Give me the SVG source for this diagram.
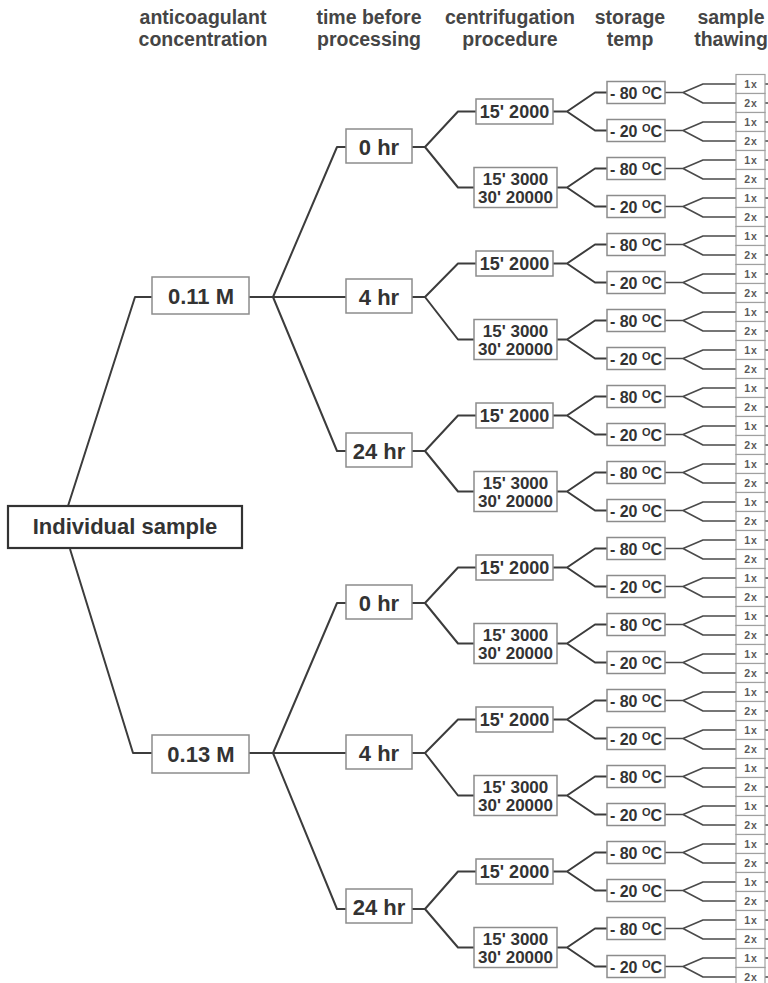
<svg xmlns="http://www.w3.org/2000/svg" width="768" height="983" viewBox="0 0 768 983">
<style>
.ln{fill:none;stroke:#3c3c3c;stroke-width:2;stroke-linejoin:round}
.lnl{fill:none;stroke:#4a4a4a;stroke-width:1.6;stroke-linejoin:round}
.bx{fill:#fff;stroke:#8c8c8c;stroke-width:1.5}
.root{fill:#fff;stroke:#333;stroke-width:2.2}
.lf{fill:#fff;stroke:#a0a0a0;stroke-width:1.2}
text{font-family:"Liberation Sans",Arial,sans-serif;font-weight:bold;fill:#333;text-anchor:middle}
.hd{font-size:19.5px;fill:#454545}
.big{font-size:22px}
.cf{font-size:18px}
.cf2{font-size:17px}
.st{font-size:16px}
.sup{font-size:11px}
.lt{font-size:10.5px;fill:#5a5a5a;letter-spacing:1px}
</style>
<rect width="768" height="983" fill="#fff"/>
<g id="headers">
<text class="hd" x="203" y="24">anticoagulant</text>
<text class="hd" x="203" y="46">concentration</text>
<text class="hd" x="369" y="24">time before</text>
<text class="hd" x="369" y="46">processing</text>
<text class="hd" x="510" y="24">centrifugation</text>
<text class="hd" x="510" y="46">procedure</text>
<text class="hd" x="630" y="24">storage</text>
<text class="hd" x="630" y="46">temp</text>
<text class="hd" x="731" y="24">sample</text>
<text class="hd" x="731" y="46">thawing</text>
</g>
<g id="connectors">
<path class="ln" d="M68 506L135 297H152"/>
<path class="ln" d="M70 549L133 753H152"/>
<path class="ln" d="M249 297H273L337 147H346"/>
<path class="ln" d="M273 297H346"/>
<path class="ln" d="M273 297L337 451H346"/>
<path class="ln" d="M249 753H273L337 603H346"/>
<path class="ln" d="M273 753H346"/>
<path class="ln" d="M273 753L337 909H346"/>
<path class="ln" d="M412 147H425L458 111.5H476M425 147L458 187.5H474"/>
<path class="ln" d="M412 297H425L458 263.5H476M425 297L458 339.5H474"/>
<path class="ln" d="M412 451H425L458 415.5H476M425 451L458 491.5H474"/>
<path class="ln" d="M412 603H425L458 567.5H476M425 603L458 643.5H474"/>
<path class="ln" d="M412 753H425L458 719.5H476M425 753L458 795.5H474"/>
<path class="ln" d="M412 909H425L458 871.5H476M425 909L458 947.5H474"/>
<path class="ln" d="M553 111.5H567L595 92.5H607M567 111.5L595 130.5H607"/>
<path class="ln" d="M557 187.5H567L595 168.5H607M567 187.5L595 206.5H607"/>
<path class="ln" d="M553 263.5H567L595 244.5H607M567 263.5L595 282.5H607"/>
<path class="ln" d="M557 339.5H567L595 320.5H607M567 339.5L595 358.5H607"/>
<path class="ln" d="M553 415.5H567L595 396.5H607M567 415.5L595 434.5H607"/>
<path class="ln" d="M557 491.5H567L595 472.5H607M567 491.5L595 510.5H607"/>
<path class="ln" d="M553 567.5H567L595 548.5H607M567 567.5L595 586.5H607"/>
<path class="ln" d="M557 643.5H567L595 624.5H607M567 643.5L595 662.5H607"/>
<path class="ln" d="M553 719.5H567L595 700.5H607M567 719.5L595 738.5H607"/>
<path class="ln" d="M557 795.5H567L595 776.5H607M567 795.5L595 814.5H607"/>
<path class="ln" d="M553 871.5H567L595 852.5H607M567 871.5L595 890.5H607"/>
<path class="ln" d="M557 947.5H567L595 928.5H607M567 947.5L595 966.5H607"/>
<path class="lnl" d="M665 92.5H683L703 84H736M683 92.5L703 103H736"/>
<path class="lnl" d="M665 130.5H683L703 122H736M683 130.5L703 141H736"/>
<path class="lnl" d="M665 168.5H683L703 160H736M683 168.5L703 179H736"/>
<path class="lnl" d="M665 206.5H683L703 198H736M683 206.5L703 217H736"/>
<path class="lnl" d="M665 244.5H683L703 236H736M683 244.5L703 255H736"/>
<path class="lnl" d="M665 282.5H683L703 274H736M683 282.5L703 293H736"/>
<path class="lnl" d="M665 320.5H683L703 312H736M683 320.5L703 331H736"/>
<path class="lnl" d="M665 358.5H683L703 350H736M683 358.5L703 369H736"/>
<path class="lnl" d="M665 396.5H683L703 388H736M683 396.5L703 407H736"/>
<path class="lnl" d="M665 434.5H683L703 426H736M683 434.5L703 445H736"/>
<path class="lnl" d="M665 472.5H683L703 464H736M683 472.5L703 483H736"/>
<path class="lnl" d="M665 510.5H683L703 502H736M683 510.5L703 521H736"/>
<path class="lnl" d="M665 548.5H683L703 540H736M683 548.5L703 559H736"/>
<path class="lnl" d="M665 586.5H683L703 578H736M683 586.5L703 597H736"/>
<path class="lnl" d="M665 624.5H683L703 616H736M683 624.5L703 635H736"/>
<path class="lnl" d="M665 662.5H683L703 654H736M683 662.5L703 673H736"/>
<path class="lnl" d="M665 700.5H683L703 692H736M683 700.5L703 711H736"/>
<path class="lnl" d="M665 738.5H683L703 730H736M683 738.5L703 749H736"/>
<path class="lnl" d="M665 776.5H683L703 768H736M683 776.5L703 787H736"/>
<path class="lnl" d="M665 814.5H683L703 806H736M683 814.5L703 825H736"/>
<path class="lnl" d="M665 852.5H683L703 844H736M683 852.5L703 863H736"/>
<path class="lnl" d="M665 890.5H683L703 882H736M683 890.5L703 901H736"/>
<path class="lnl" d="M665 928.5H683L703 920H736M683 928.5L703 939H736"/>
<path class="lnl" d="M665 966.5H683L703 958H736M683 966.5L703 977H736"/>
<path class="lnl" d="M765 84h3M765 103h3M765 122h3M765 141h3M765 160h3M765 179h3M765 198h3M765 217h3M765 236h3M765 255h3M765 274h3M765 293h3M765 312h3M765 331h3M765 350h3M765 369h3M765 388h3M765 407h3M765 426h3M765 445h3M765 464h3M765 483h3M765 502h3M765 521h3M765 540h3M765 559h3M765 578h3M765 597h3M765 616h3M765 635h3M765 654h3M765 673h3M765 692h3M765 711h3M765 730h3M765 749h3M765 768h3M765 787h3M765 806h3M765 825h3M765 844h3M765 863h3M765 882h3M765 901h3M765 920h3M765 939h3M765 958h3M765 977h3"/>
</g>
<g id="n-root"><rect class="root" x="8" y="506" width="234" height="42"/><text class="big" x="125" y="534">Individual sample</text></g>
<g id="n-c011"><rect class="bx" x="152" y="277" width="97" height="37"/><text class="big" x="201" y="303.5">0.11 M</text></g>
<g id="n-c013"><rect class="bx" x="152" y="735" width="97" height="38"/><text class="big" x="201" y="762">0.13 M</text></g>
<g id="n-t0"><rect class="bx" x="346" y="129" width="66" height="34"/><text class="big" x="379" y="154.5">0 hr</text></g>
<g id="n-t1"><rect class="bx" x="346" y="279" width="66" height="34"/><text class="big" x="379" y="304.5">4 hr</text></g>
<g id="n-t2"><rect class="bx" x="346" y="433" width="66" height="34"/><text class="big" x="379" y="458.5">24 hr</text></g>
<g id="n-t3"><rect class="bx" x="346" y="585" width="66" height="34"/><text class="big" x="379" y="610.5">0 hr</text></g>
<g id="n-t4"><rect class="bx" x="346" y="735" width="66" height="34"/><text class="big" x="379" y="760.5">4 hr</text></g>
<g id="n-t5"><rect class="bx" x="346" y="889" width="66" height="34"/><text class="big" x="379" y="914.5">24 hr</text></g>
<g id="n-f0"><rect class="bx" x="476" y="99" width="77" height="25"/><text class="cf" x="514.5" y="118">15' 2000</text></g>
<g id="n-f1"><rect class="bx" x="474" y="167.5" width="83" height="40"/><text class="cf2" x="515.5" y="184.5">15' 3000</text><text class="cf2" x="515.5" y="203">30' 20000</text></g>
<g id="n-f2"><rect class="bx" x="476" y="251" width="77" height="25"/><text class="cf" x="514.5" y="270">15' 2000</text></g>
<g id="n-f3"><rect class="bx" x="474" y="319.5" width="83" height="40"/><text class="cf2" x="515.5" y="336.5">15' 3000</text><text class="cf2" x="515.5" y="355">30' 20000</text></g>
<g id="n-f4"><rect class="bx" x="476" y="403" width="77" height="25"/><text class="cf" x="514.5" y="422">15' 2000</text></g>
<g id="n-f5"><rect class="bx" x="474" y="471.5" width="83" height="40"/><text class="cf2" x="515.5" y="488.5">15' 3000</text><text class="cf2" x="515.5" y="507">30' 20000</text></g>
<g id="n-f6"><rect class="bx" x="476" y="555" width="77" height="25"/><text class="cf" x="514.5" y="574">15' 2000</text></g>
<g id="n-f7"><rect class="bx" x="474" y="623.5" width="83" height="40"/><text class="cf2" x="515.5" y="640.5">15' 3000</text><text class="cf2" x="515.5" y="659">30' 20000</text></g>
<g id="n-f8"><rect class="bx" x="476" y="707" width="77" height="25"/><text class="cf" x="514.5" y="726">15' 2000</text></g>
<g id="n-f9"><rect class="bx" x="474" y="775.5" width="83" height="40"/><text class="cf2" x="515.5" y="792.5">15' 3000</text><text class="cf2" x="515.5" y="811">30' 20000</text></g>
<g id="n-f10"><rect class="bx" x="476" y="859" width="77" height="25"/><text class="cf" x="514.5" y="878">15' 2000</text></g>
<g id="n-f11"><rect class="bx" x="474" y="927.5" width="83" height="40"/><text class="cf2" x="515.5" y="944.5">15' 3000</text><text class="cf2" x="515.5" y="963">30' 20000</text></g>
<g id="n-s0"><rect class="bx" x="607" y="81.5" width="58" height="22"/><text class="st" x="636" y="98.5">- 80 <tspan class="sup" dy="-5">O</tspan><tspan dy="5">C</tspan></text></g>
<g id="n-s1"><rect class="bx" x="607" y="119.5" width="58" height="22"/><text class="st" x="636" y="136.5">- 20 <tspan class="sup" dy="-5">O</tspan><tspan dy="5">C</tspan></text></g>
<g id="n-s2"><rect class="bx" x="607" y="157.5" width="58" height="22"/><text class="st" x="636" y="174.5">- 80 <tspan class="sup" dy="-5">O</tspan><tspan dy="5">C</tspan></text></g>
<g id="n-s3"><rect class="bx" x="607" y="195.5" width="58" height="22"/><text class="st" x="636" y="212.5">- 20 <tspan class="sup" dy="-5">O</tspan><tspan dy="5">C</tspan></text></g>
<g id="n-s4"><rect class="bx" x="607" y="233.5" width="58" height="22"/><text class="st" x="636" y="250.5">- 80 <tspan class="sup" dy="-5">O</tspan><tspan dy="5">C</tspan></text></g>
<g id="n-s5"><rect class="bx" x="607" y="271.5" width="58" height="22"/><text class="st" x="636" y="288.5">- 20 <tspan class="sup" dy="-5">O</tspan><tspan dy="5">C</tspan></text></g>
<g id="n-s6"><rect class="bx" x="607" y="309.5" width="58" height="22"/><text class="st" x="636" y="326.5">- 80 <tspan class="sup" dy="-5">O</tspan><tspan dy="5">C</tspan></text></g>
<g id="n-s7"><rect class="bx" x="607" y="347.5" width="58" height="22"/><text class="st" x="636" y="364.5">- 20 <tspan class="sup" dy="-5">O</tspan><tspan dy="5">C</tspan></text></g>
<g id="n-s8"><rect class="bx" x="607" y="385.5" width="58" height="22"/><text class="st" x="636" y="402.5">- 80 <tspan class="sup" dy="-5">O</tspan><tspan dy="5">C</tspan></text></g>
<g id="n-s9"><rect class="bx" x="607" y="423.5" width="58" height="22"/><text class="st" x="636" y="440.5">- 20 <tspan class="sup" dy="-5">O</tspan><tspan dy="5">C</tspan></text></g>
<g id="n-s10"><rect class="bx" x="607" y="461.5" width="58" height="22"/><text class="st" x="636" y="478.5">- 80 <tspan class="sup" dy="-5">O</tspan><tspan dy="5">C</tspan></text></g>
<g id="n-s11"><rect class="bx" x="607" y="499.5" width="58" height="22"/><text class="st" x="636" y="516.5">- 20 <tspan class="sup" dy="-5">O</tspan><tspan dy="5">C</tspan></text></g>
<g id="n-s12"><rect class="bx" x="607" y="537.5" width="58" height="22"/><text class="st" x="636" y="554.5">- 80 <tspan class="sup" dy="-5">O</tspan><tspan dy="5">C</tspan></text></g>
<g id="n-s13"><rect class="bx" x="607" y="575.5" width="58" height="22"/><text class="st" x="636" y="592.5">- 20 <tspan class="sup" dy="-5">O</tspan><tspan dy="5">C</tspan></text></g>
<g id="n-s14"><rect class="bx" x="607" y="613.5" width="58" height="22"/><text class="st" x="636" y="630.5">- 80 <tspan class="sup" dy="-5">O</tspan><tspan dy="5">C</tspan></text></g>
<g id="n-s15"><rect class="bx" x="607" y="651.5" width="58" height="22"/><text class="st" x="636" y="668.5">- 20 <tspan class="sup" dy="-5">O</tspan><tspan dy="5">C</tspan></text></g>
<g id="n-s16"><rect class="bx" x="607" y="689.5" width="58" height="22"/><text class="st" x="636" y="706.5">- 80 <tspan class="sup" dy="-5">O</tspan><tspan dy="5">C</tspan></text></g>
<g id="n-s17"><rect class="bx" x="607" y="727.5" width="58" height="22"/><text class="st" x="636" y="744.5">- 20 <tspan class="sup" dy="-5">O</tspan><tspan dy="5">C</tspan></text></g>
<g id="n-s18"><rect class="bx" x="607" y="765.5" width="58" height="22"/><text class="st" x="636" y="782.5">- 80 <tspan class="sup" dy="-5">O</tspan><tspan dy="5">C</tspan></text></g>
<g id="n-s19"><rect class="bx" x="607" y="803.5" width="58" height="22"/><text class="st" x="636" y="820.5">- 20 <tspan class="sup" dy="-5">O</tspan><tspan dy="5">C</tspan></text></g>
<g id="n-s20"><rect class="bx" x="607" y="841.5" width="58" height="22"/><text class="st" x="636" y="858.5">- 80 <tspan class="sup" dy="-5">O</tspan><tspan dy="5">C</tspan></text></g>
<g id="n-s21"><rect class="bx" x="607" y="879.5" width="58" height="22"/><text class="st" x="636" y="896.5">- 20 <tspan class="sup" dy="-5">O</tspan><tspan dy="5">C</tspan></text></g>
<g id="n-s22"><rect class="bx" x="607" y="917.5" width="58" height="22"/><text class="st" x="636" y="934.5">- 80 <tspan class="sup" dy="-5">O</tspan><tspan dy="5">C</tspan></text></g>
<g id="n-s23"><rect class="bx" x="607" y="955.5" width="58" height="22"/><text class="st" x="636" y="972.5">- 20 <tspan class="sup" dy="-5">O</tspan><tspan dy="5">C</tspan></text></g>
<g id="n-l0"><rect class="lf" x="736" y="74.5" width="29" height="19"/><text class="lt" x="751" y="88">1x</text></g>
<g id="n-l1"><rect class="lf" x="736" y="93.5" width="29" height="19"/><text class="lt" x="751" y="107">2x</text></g>
<g id="n-l2"><rect class="lf" x="736" y="112.5" width="29" height="19"/><text class="lt" x="751" y="126">1x</text></g>
<g id="n-l3"><rect class="lf" x="736" y="131.5" width="29" height="19"/><text class="lt" x="751" y="145">2x</text></g>
<g id="n-l4"><rect class="lf" x="736" y="150.5" width="29" height="19"/><text class="lt" x="751" y="164">1x</text></g>
<g id="n-l5"><rect class="lf" x="736" y="169.5" width="29" height="19"/><text class="lt" x="751" y="183">2x</text></g>
<g id="n-l6"><rect class="lf" x="736" y="188.5" width="29" height="19"/><text class="lt" x="751" y="202">1x</text></g>
<g id="n-l7"><rect class="lf" x="736" y="207.5" width="29" height="19"/><text class="lt" x="751" y="221">2x</text></g>
<g id="n-l8"><rect class="lf" x="736" y="226.5" width="29" height="19"/><text class="lt" x="751" y="240">1x</text></g>
<g id="n-l9"><rect class="lf" x="736" y="245.5" width="29" height="19"/><text class="lt" x="751" y="259">2x</text></g>
<g id="n-l10"><rect class="lf" x="736" y="264.5" width="29" height="19"/><text class="lt" x="751" y="278">1x</text></g>
<g id="n-l11"><rect class="lf" x="736" y="283.5" width="29" height="19"/><text class="lt" x="751" y="297">2x</text></g>
<g id="n-l12"><rect class="lf" x="736" y="302.5" width="29" height="19"/><text class="lt" x="751" y="316">1x</text></g>
<g id="n-l13"><rect class="lf" x="736" y="321.5" width="29" height="19"/><text class="lt" x="751" y="335">2x</text></g>
<g id="n-l14"><rect class="lf" x="736" y="340.5" width="29" height="19"/><text class="lt" x="751" y="354">1x</text></g>
<g id="n-l15"><rect class="lf" x="736" y="359.5" width="29" height="19"/><text class="lt" x="751" y="373">2x</text></g>
<g id="n-l16"><rect class="lf" x="736" y="378.5" width="29" height="19"/><text class="lt" x="751" y="392">1x</text></g>
<g id="n-l17"><rect class="lf" x="736" y="397.5" width="29" height="19"/><text class="lt" x="751" y="411">2x</text></g>
<g id="n-l18"><rect class="lf" x="736" y="416.5" width="29" height="19"/><text class="lt" x="751" y="430">1x</text></g>
<g id="n-l19"><rect class="lf" x="736" y="435.5" width="29" height="19"/><text class="lt" x="751" y="449">2x</text></g>
<g id="n-l20"><rect class="lf" x="736" y="454.5" width="29" height="19"/><text class="lt" x="751" y="468">1x</text></g>
<g id="n-l21"><rect class="lf" x="736" y="473.5" width="29" height="19"/><text class="lt" x="751" y="487">2x</text></g>
<g id="n-l22"><rect class="lf" x="736" y="492.5" width="29" height="19"/><text class="lt" x="751" y="506">1x</text></g>
<g id="n-l23"><rect class="lf" x="736" y="511.5" width="29" height="19"/><text class="lt" x="751" y="525">2x</text></g>
<g id="n-l24"><rect class="lf" x="736" y="530.5" width="29" height="19"/><text class="lt" x="751" y="544">1x</text></g>
<g id="n-l25"><rect class="lf" x="736" y="549.5" width="29" height="19"/><text class="lt" x="751" y="563">2x</text></g>
<g id="n-l26"><rect class="lf" x="736" y="568.5" width="29" height="19"/><text class="lt" x="751" y="582">1x</text></g>
<g id="n-l27"><rect class="lf" x="736" y="587.5" width="29" height="19"/><text class="lt" x="751" y="601">2x</text></g>
<g id="n-l28"><rect class="lf" x="736" y="606.5" width="29" height="19"/><text class="lt" x="751" y="620">1x</text></g>
<g id="n-l29"><rect class="lf" x="736" y="625.5" width="29" height="19"/><text class="lt" x="751" y="639">2x</text></g>
<g id="n-l30"><rect class="lf" x="736" y="644.5" width="29" height="19"/><text class="lt" x="751" y="658">1x</text></g>
<g id="n-l31"><rect class="lf" x="736" y="663.5" width="29" height="19"/><text class="lt" x="751" y="677">2x</text></g>
<g id="n-l32"><rect class="lf" x="736" y="682.5" width="29" height="19"/><text class="lt" x="751" y="696">1x</text></g>
<g id="n-l33"><rect class="lf" x="736" y="701.5" width="29" height="19"/><text class="lt" x="751" y="715">2x</text></g>
<g id="n-l34"><rect class="lf" x="736" y="720.5" width="29" height="19"/><text class="lt" x="751" y="734">1x</text></g>
<g id="n-l35"><rect class="lf" x="736" y="739.5" width="29" height="19"/><text class="lt" x="751" y="753">2x</text></g>
<g id="n-l36"><rect class="lf" x="736" y="758.5" width="29" height="19"/><text class="lt" x="751" y="772">1x</text></g>
<g id="n-l37"><rect class="lf" x="736" y="777.5" width="29" height="19"/><text class="lt" x="751" y="791">2x</text></g>
<g id="n-l38"><rect class="lf" x="736" y="796.5" width="29" height="19"/><text class="lt" x="751" y="810">1x</text></g>
<g id="n-l39"><rect class="lf" x="736" y="815.5" width="29" height="19"/><text class="lt" x="751" y="829">2x</text></g>
<g id="n-l40"><rect class="lf" x="736" y="834.5" width="29" height="19"/><text class="lt" x="751" y="848">1x</text></g>
<g id="n-l41"><rect class="lf" x="736" y="853.5" width="29" height="19"/><text class="lt" x="751" y="867">2x</text></g>
<g id="n-l42"><rect class="lf" x="736" y="872.5" width="29" height="19"/><text class="lt" x="751" y="886">1x</text></g>
<g id="n-l43"><rect class="lf" x="736" y="891.5" width="29" height="19"/><text class="lt" x="751" y="905">2x</text></g>
<g id="n-l44"><rect class="lf" x="736" y="910.5" width="29" height="19"/><text class="lt" x="751" y="924">1x</text></g>
<g id="n-l45"><rect class="lf" x="736" y="929.5" width="29" height="19"/><text class="lt" x="751" y="943">2x</text></g>
<g id="n-l46"><rect class="lf" x="736" y="948.5" width="29" height="19"/><text class="lt" x="751" y="962">1x</text></g>
<g id="n-l47"><rect class="lf" x="736" y="967.5" width="29" height="19"/><text class="lt" x="751" y="981">2x</text></g>
</svg>
